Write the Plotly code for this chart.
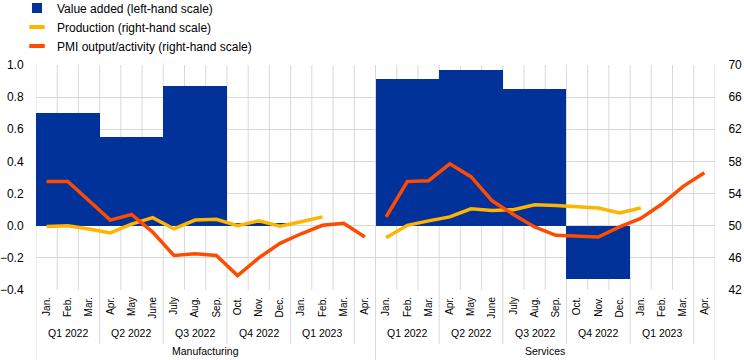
import plotly.graph_objects as go

# ---- data ----
months = ["Jan.", "Feb.", "Mar.", "Apr.", "May", "June", "July", "Aug.", "Sep.",
          "Oct.", "Nov.", "Dec.", "Jan.", "Feb.", "Mar.", "Apr."]
quarters = ["Q1 2022", "Q2 2022", "Q3 2022", "Q4 2022", "Q1 2023"]
sectors = ["Manufacturing", "Services"]

va_manufacturing = [0.70, 0.55, 0.87, 0.02]
va_services = [0.91, 0.97, 0.85, -0.33]

prod_manufacturing = [49.9, 50.0, 49.6, 49.1, 50.2, 51.0, 49.6, 50.7, 50.8, 50.0,
                      50.6, 49.95, 50.5, 51.1, None, None]
pmi_manufacturing = [55.5, 55.5, 53.1, 50.7, 51.4, 49.2, 46.3, 46.5, 46.3, 43.8,
                     46.0, 47.8, 49.0, 50.05, 50.3, 48.6]
prod_services = [48.5, 50.05, 50.6, 51.1, 52.1, 51.9, 52.0, 52.6, 52.5, 52.3,
                 52.2, 51.6, 52.2, None, None, None]
pmi_services = [51.1, 55.5, 55.6, 57.7, 56.1, 53.1, 51.4, 49.85, 48.8, 48.7,
                48.6, 49.85, 50.9, 52.7, 54.9, 56.6]

right_ticks = [42, 46, 50, 54, 58, 62, 66, 70]

BLUE = "#003299"
YELLOW = "#FFB400"
ORANGE = "#FF4B00"
GRID = "#d9d9d9"
FONT = "Arial, Liberation Sans, sans-serif"

n_m = len(months)
n_total = n_m * len(sectors)
sector_series = [
    (va_manufacturing, prod_manufacturing, pmi_manufacturing),
    (va_services, prod_services, pmi_services),
]

fig = go.Figure()

for s, (va, prod, pmi) in enumerate(sector_series):
    off = s * n_m
    xs = [off + i for i in range(n_m)]
    fig.add_trace(go.Bar(
        x=[off + 3 * q + 1 for q in range(len(va))], y=va, width=3,
        marker=dict(color=BLUE, line=dict(width=0)),
        showlegend=False, yaxis="y", hoverinfo="y"))
    fig.add_trace(go.Scatter(
        x=xs, y=prod, mode="lines", line=dict(color=YELLOW, width=3.5),
        showlegend=False, yaxis="y2", connectgaps=False))
    fig.add_trace(go.Scatter(
        x=xs, y=pmi, mode="lines", line=dict(color=ORANGE, width=3.5),
        showlegend=False, yaxis="y2", connectgaps=False))

# legend entries
fig.add_trace(go.Scatter(x=[None], y=[None], mode="markers", name="Value added (left-hand scale)",
                         marker=dict(symbol="square", size=10, color=BLUE)))
fig.add_trace(go.Scatter(x=[None], y=[None], mode="markers", name="Production (right-hand scale)",
                         marker=dict(symbol="line-ew", size=11, line=dict(color=YELLOW, width=4))))
fig.add_trace(go.Scatter(x=[None], y=[None], mode="markers", name="PMI output/activity (right-hand scale)",
                         marker=dict(symbol="line-ew", size=11, line=dict(color=ORANGE, width=4))))

shapes = []
# vertical gridlines at category boundaries
for k in range(n_total + 1):
    shapes.append(dict(type="line", xref="x", yref="paper", x0=k - 0.5, x1=k - 0.5,
                       y0=0, y1=1, line=dict(color=GRID, width=1), layer="below"))
# quarter separators in the label area
for s in range(len(sectors)):
    for q in range(len(quarters)):
        xb = s * n_m + 3 * (q + 1) - 0.5
        shapes.append(dict(type="line", xref="x", yref="paper", x0=xb, x1=xb,
                           y0=0, y1=-0.24, line=dict(color=GRID, width=1)))
# sector separators
for s in range(len(sectors) + 1):
    xb = s * n_m - 0.5
    shapes.append(dict(type="line", xref="x", yref="paper", x0=xb, x1=xb,
                       y0=0, y1=-0.315, line=dict(color=GRID, width=1)))

annotations = []
for s, name in enumerate(sectors):
    for q, ql in enumerate(quarters):
        annotations.append(dict(x=s * n_m + 3 * q + 1, y=-0.19, xref="x", yref="paper",
                                text=ql, showarrow=False, yanchor="middle",
                                font=dict(size=10.5, color="#000", family=FONT)))
    annotations.append(dict(x=s * n_m + (n_m - 1) / 2, y=-0.272, xref="x", yref="paper",
                            text=name, showarrow=False, yanchor="middle",
                            font=dict(size=10.5, color="#000", family=FONT)))

fig.update_layout(
    width=744, height=360,
    margin=dict(l=36, r=29, t=65, b=70, autoexpand=False),
    paper_bgcolor="white", plot_bgcolor="white",
    font=dict(family=FONT, size=12, color="#000"),
    bargap=0,
    showlegend=True,
    legend=dict(x=-0.028, y=1.318, xanchor="left", yanchor="top",
                font=dict(size=12, color="#000"), bgcolor="rgba(0,0,0,0)",
                tracegroupgap=0, itemsizing="trace"),
    xaxis=dict(range=[-0.5, n_total - 0.5], tickvals=list(range(n_total)),
               ticktext=months * len(sectors), tickangle=-90, showgrid=False,
               zeroline=False, showline=False, ticks="outside", ticklen=2,
               tickcolor="rgba(0,0,0,0)", tickfont=dict(size=10, color="#000"),
               automargin=False),
    yaxis=dict(range=[-0.4, 1.0], dtick=0.2, tickformat=".1f", showgrid=True,
               gridcolor=GRID, gridwidth=1, zeroline=False, showline=False,
               ticks="outside", ticklen=9, tickcolor="rgba(0,0,0,0)",
               tickfont=dict(size=12, color="#000"), automargin=False),
    yaxis2=dict(range=[42, 70], tickvals=right_ticks, overlaying="y", side="right",
                showgrid=False, zeroline=False, showline=False, ticks="outside",
                ticklen=10, tickcolor="rgba(0,0,0,0)", tickfont=dict(size=12, color="#000"),
                automargin=False),
    shapes=shapes, annotations=annotations,
)

fig.write_html("out.html", config={"displayModeBar": False},
               post_script="document.body.style.margin='0';")
